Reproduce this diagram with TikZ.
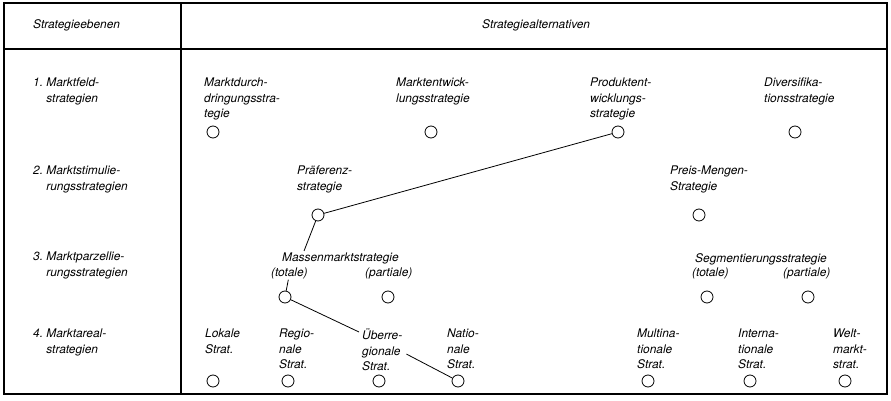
\documentclass[tikz,border=0pt]{standalone}
\usepackage{fontspec}
\setmainfont{TeX Gyre Heros}
\begin{document}
\begin{tikzpicture}[x=1pt,y=-1pt,
  txt/.style={anchor=north west,align=left,inner sep=0pt,font=\fontsize{11.9}{15.4}\selectfont\itshape},
  alt/.style={circle,draw,line width=0.8pt,minimum size=12pt,inner sep=0pt},
  verb/.style={line width=0.8pt}]
  \useasboundingbox (0,0) rectangle (891,401);
  %table frame
  \draw [line width=1.2pt] (4,3) rectangle (887,394);
  \draw [line width=1.2pt] (181,3) -- (181,394);
  \draw [line width=1.2pt] (4,49) -- (887,49);
  \node[txt] (hdr-eb) at (33,19) {Strategieebenen};
  \node[txt] (hdr-alt) at (482,19) {Strategiealternativen};
  %levels
  \node[txt] (lvl1) at (33,78) {1.~Marktfeld-\\\hphantom{1.~}strategien};
  \node[txt] (lvl2) at (33,166) {2.~Marktstimulie-\\\hphantom{2.~}rungsstrategien};
  \node[txt] (lvl3) at (33,252) {3.~Marktparzellie-\\\hphantom{3.~}rungsstrategien};
  \node[txt] (lvl4) at (33,329) {4.~Marktareal-\\\hphantom{4.~}strategien};
  %1. Marktfeld
  \node[txt] (durch) at (204,78) {Marktdurch-\\dringungsstra-\\tegie};
  \node[alt] (durch-o) at (213,132) {};
  \node[txt] (entw) at (396,78) {Marktentwick-\\lungsstrategie};
  \node[alt] (entw-o) at (431,132) {};
  \node[txt] (prod) at (590,78) {Produktent-\\wicklungs-\\strategie};
  \node[alt] (prod-o) at (618,132) {};
  \node[txt] (divers) at (764,78) {Diversifika-\\tionsstrategie};
  \node[alt] (divers-o) at (795,132) {};
  %2. Marktstimulierung
  \node[txt] (praef) at (297,166) {Präferenz-\\strategie};
  \node[alt] (praef-o) at (318,215) {};
  \node[txt] (preis) at (670,166) {Preis-Mengen-\\Strategie};
  \node[alt] (preis-o) at (699,215) {};
  %3. Marktparzellierung
  \node[txt] (massen) at (282,253) {Massenmarktstrategie};
  \node[txt] (mtot) at (271,268) {(totale)};
  \node[txt] (mpart) at (365,268) {(partiale)};
  \node[alt] (mtot-o) at (285,297) {};
  \node[alt] (mpart-o) at (388,297) {};
  \node[txt] (segm) at (695,253) {Segmentierungsstrategie};
  \node[txt] (stot) at (692,268) {(totale)};
  \node[txt] (spart) at (783,268) {(partiale)};
  \node[alt] (stot-o) at (707,297) {};
  \node[alt] (spart-o) at (808,297) {};
  %4. Marktareal
  \node[txt] (lokal) at (205,329) {Lokale\\Strat.};
  \node[alt] (lokal-o) at (213,381) {};
  \node[txt] (regio) at (279,329) {Regio-\\nale\\Strat.};
  \node[alt] (regio-o) at (288,381) {};
  \node[txt] (ueber) at (362,329) {Überre-\\gionale\\Strat.};
  \node[alt] (ueber-o) at (379,381) {};
  \node[txt] (natio) at (447,329) {Natio-\\nale\\Strat.};
  \node[alt] (natio-o) at (458,381) {};
  \node[txt] (multi) at (637,329) {Multina-\\tionale\\Strat.};
  \node[alt] (multi-o) at (648,381) {};
  \node[txt] (inter) at (738,329) {Interna-\\tionale\\Strat.};
  \node[alt] (inter-o) at (750,381) {};
  \node[txt] (welt) at (833,329) {Welt-\\markt-\\strat.};
  \node[alt] (welt-o) at (845,381) {};
  %chosen path
  \draw [verb] (prod-o) -- (praef-o);
  \draw [verb] (praef-o) -- ([xshift=22pt,yshift=2pt]massen.north west);
  \draw [verb] (mtot) -- (mtot-o);
  \draw [verb] (mtot-o) -- ([xshift=-3pt,yshift=-3pt]ueber.north west);
  \draw [verb] ([xshift=4pt,yshift=-4pt]ueber.east) -- (natio-o);
\end{tikzpicture}
\end{document}
